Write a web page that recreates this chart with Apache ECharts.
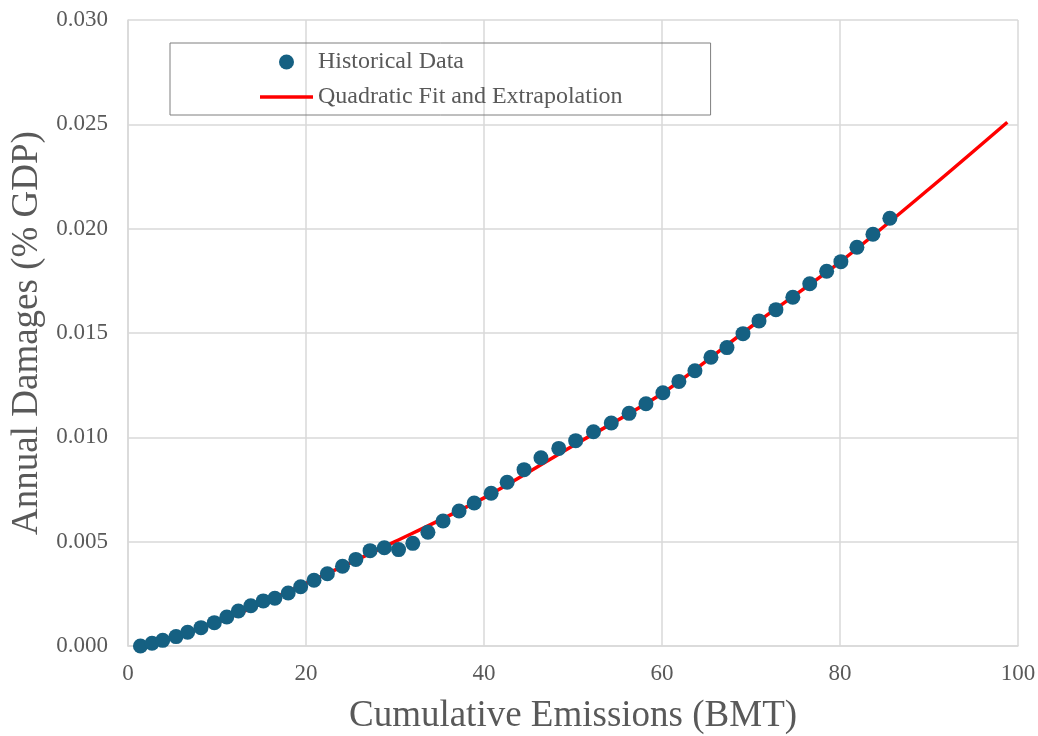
<!DOCTYPE html>
<html>
<head>
<meta charset="utf-8">
<script src="https://cdn.jsdelivr.net/npm/echarts@6/dist/echarts.min.js"></script>
<style>
  html, body { margin: 0; padding: 0; background: #fff; }
  #main { width: 1038px; height: 736px; }
</style>
</head>
<body>
<div id="main"></div>
<script>
// historical points (cumulative emissions, damages)
var histX = [1.4, 2.7, 3.9, 5.4, 6.7, 8.2, 9.7, 11.1, 12.4, 13.8, 15.2, 16.5, 18.0, 19.4, 20.9,
  22.4, 24.1, 25.6, 27.2, 28.8, 30.4, 32.0, 33.7, 35.4, 37.2, 38.9, 40.8, 42.6, 44.5, 46.4,
  48.4, 50.3, 52.3, 54.3, 56.3, 58.2, 60.1, 61.9, 63.7, 65.5, 67.3, 69.1, 70.9, 72.8, 74.7,
  76.6, 78.5, 80.1, 81.9, 83.7, 85.6];
var histY = [0.0000, 0.00013, 0.00027, 0.00045, 0.00066, 0.00088, 0.00112, 0.00139, 0.00168, 0.00193,
  0.00216, 0.00229, 0.00254, 0.00284, 0.00315, 0.00346, 0.00382, 0.00415, 0.00457, 0.00471,
  0.00462, 0.00492, 0.00545, 0.00599, 0.00647, 0.00685, 0.00732, 0.00785, 0.00845, 0.00902,
  0.00947, 0.00984, 0.01027, 0.01069, 0.01115, 0.01161, 0.01214, 0.01268, 0.01319, 0.01384,
  0.01430, 0.01497, 0.01558, 0.01612, 0.01671, 0.01736, 0.01796, 0.01842, 0.01911, 0.01973,
  0.02050];

// fitted curve
var fitX = [1.4, 10, 20, 30, 40, 50, 60, 70, 80, 90, 98.8];
var fitY = [0.0000, 0.00113, 0.0030, 0.0050, 0.0071, 0.0096, 0.0121, 0.0153, 0.0184, 0.0219, 0.0251];

var xTicks = [0, 20, 40, 60, 80, 100];

var font = 'Liberation Serif';
var textColor = '#595959';
var gridColor = '#d9d9d9';

function pairs(xs, ys) {
  var out = [];
  for (var i = 0; i < xs.length; i++) out.push([xs[i], ys[i]]);
  return out;
}

var chart = echarts.init(document.getElementById('main'));

chart.setOption({
  backgroundColor: '#fff',
  animation: false,
  grid: { left: 128, right: 20, top: 20, bottom: 90, outerBoundsMode: 'none' },
  legend: {
    orient: 'vertical',
    left: 170,
    top: 43,
    padding: [7, 88, 6, 90],
    itemGap: 11,
    itemWidth: 53,
    itemHeight: 15,
    borderColor: '#7f7f7f',
    borderWidth: 1,
    textStyle: { fontFamily: font, fontSize: 24, color: textColor },
    data: [
      { name: 'Historical Data', icon: 'circle' },
      { name: 'Quadratic Fit and Extrapolation', icon: 'path://M0,0H53V3.5H0Z' }
    ]
  },
  xAxis: {
    type: 'value',
    min: xTicks[0],
    max: xTicks[xTicks.length - 1],
    interval: 20,
    name: 'Cumulative Emissions (BMT)',
    nameLocation: 'middle',
    nameGap: 52,
    nameTextStyle: { fontFamily: font, fontSize: 37, color: textColor },
    axisLine: { show: true, lineStyle: { color: gridColor, width: 1.5 } },
    axisTick: { show: false },
    axisLabel: { fontFamily: font, fontSize: 23, color: textColor, margin: 16 },
    splitLine: { show: true, lineStyle: { color: gridColor, width: 1.5 } }
  },
  yAxis: {
    type: 'value',
    min: 0,
    max: 0.03,
    interval: 0.005,
    name: 'Annual Damages (% GDP)',
    nameLocation: 'middle',
    nameGap: 80,
    nameTextStyle: { fontFamily: font, fontSize: 37, color: textColor },
    axisLine: { show: true, lineStyle: { color: gridColor, width: 1.5 } },
    axisTick: { show: false },
    axisLabel: {
      fontFamily: font, fontSize: 23, color: textColor, margin: 20,
      formatter: function (v) { return v.toFixed(3); }
    },
    splitLine: { show: true, lineStyle: { color: gridColor, width: 1.5 } }
  },
  series: [
    {
      name: 'Historical Data',
      type: 'scatter',
      symbol: 'circle',
      symbolSize: 15,
      itemStyle: { color: '#156082', opacity: 1 },
      z: 3,
      data: pairs(histX, histY)
    },
    {
      name: 'Quadratic Fit and Extrapolation',
      type: 'line',
      smooth: 0.3,
      symbol: 'none',
      lineStyle: { color: '#ff0000', width: 3.5 },
      itemStyle: { color: '#ff0000' },
      z: 2,
      data: pairs(fitX, fitY)
    }
  ]
});
</script>
</body>
</html>
